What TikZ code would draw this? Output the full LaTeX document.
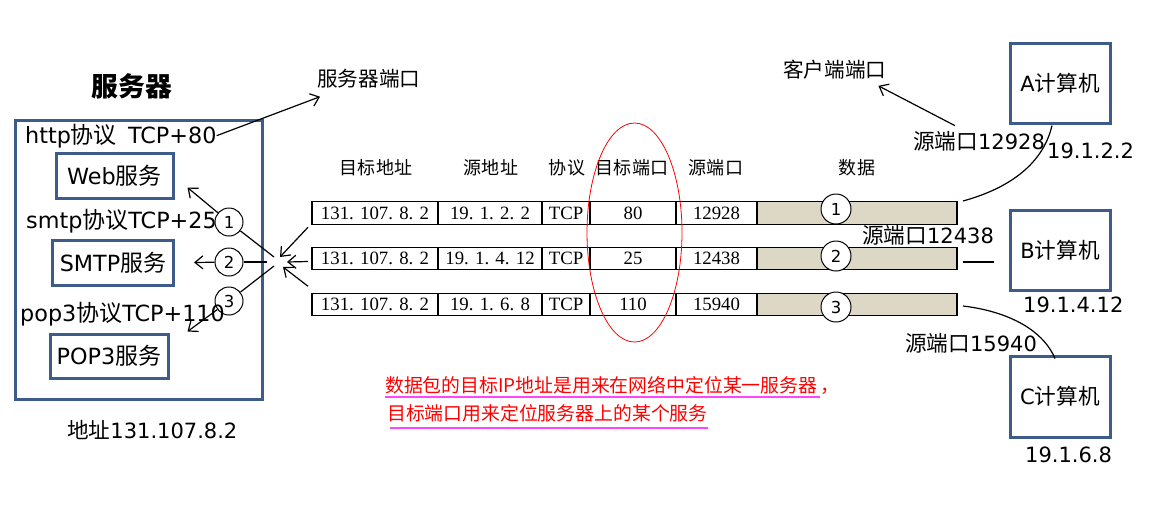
\documentclass[tikz,border=0pt]{standalone}
\usepackage{fontspec}
\setmainfont{DejaVu Sans}
\newfontfamily\zh[Scale=1.03]{Noto Sans CJK SC}
\newfontfamily\tabfont{Liberation Serif}
\usepackage{tikz}
\usetikzlibrary{arrows.meta,calc}

\definecolor{boxblue}{RGB}{62,92,138}
\definecolor{datafill}{RGB}{221,216,198}
\definecolor{ulmagenta}{RGB}{255,70,255}
\newcommand\lblsize{\fontsize{21}{25}\selectfont}
\newcommand\srvsize{\fontsize{22.3}{26}\selectfont}

\begin{document}
\begin{tikzpicture}[x=1pt,y=-1pt,
    lbl/.style={inner sep=0, font=\lblsize},
    srvlbl/.style={inner sep=0, font=\srvsize},
    bluebox/.style={draw=boxblue, line width=3, inner sep=0, font=\lblsize},
    cell/.style={draw, line width=1.2, minimum height=22.5, inner sep=0, outer sep=0, anchor=west, font=\fontsize{18.8}{22}\selectfont\tabfont},
    head/.style={inner sep=0, font=\fontsize{17.5}{20}\selectfont\zh},
    num/.style={draw, circle, line width=1, minimum size=28, inner sep=0, font=\fontsize{16.5}{20}\selectfont},
    conn/.style={line width=1.2},
    arr/.style={conn, -{Straight Barb[length=8pt,width=13pt]}},
    note/.style={inner sep=0, text=red, font=\fontsize{18.3}{22}\selectfont\zh},
    uline/.style={draw=ulmagenta, line width=2}]
        \useasboundingbox (0,0) rectangle (1155,504);

        % Сервер
        \node[font=\fontsize{26}{30}\selectfont\zh\bfseries] (title) at (132,86) {服务器};
        \node[bluebox, minimum width=247, minimum height=279] (server) at (138.5,259.5) {};
        \node[srvlbl, anchor=base west] (http) at (25,143) {http{\zh 协议}\hspace{0.5em}TCP+80};
        \node[srvlbl, anchor=base west] (smtp) at (26,228) {smtp{\zh 协议}TCP+25};
        \node[srvlbl, anchor=base west] (pop) at (20,321) {pop3{\zh 协议}TCP+110};
        \node[bluebox, font=\srvsize, minimum width=117, minimum height=45] (web) at (114.5,175.5) {Web{\zh 服务}};
        \node[bluebox, font=\srvsize, minimum width=121, minimum height=45] (smtpsrv) at (113,262.5) {SMTP{\zh 服务}};
        \node[bluebox, font=\srvsize, minimum width=118, minimum height=44] (popsrv) at (109,356) {POP3{\zh 服务}};
        \node[lbl, anchor=base west] (addr) at (67,438) {{\zh 地址}131.107.8.2};

        % Порт сервера
        \node[lbl, font=\fontsize{20}{24}\selectfont\zh, anchor=west] (svport) at (317,79) {服务器端口};
        \draw[arr] (http.east) -- ($(svport.south west)+(3,8)$);

        % Заголовки таблицы
        \foreach \x/\t [count=\j] in {376/目标地址, 491/源地址, 567/协议, 632/目标端口, 716/源端口, 857/数据} {
            \node[head] (h\j) at (\x,168) {\t};
        }

        % Строки пакетов
        \foreach \i/\y/\cy/\src/\dp/\sp in {1/213/209/19. 1. 2. 2/80/12928, 2/258.5/256/19. 1. 4. 12/25/12438, 3/304.5/307/19. 1. 6. 8/110/15940} {
            \node[cell, minimum width=126] (d\i) at (312,\y) {131. 107. 8. 2};
            \node[cell, minimum width=104] (s\i) at (d\i.east) {\src};
            \node[cell, minimum width=48] (p\i) at (s\i.east) {TCP};
            \node[cell, minimum width=86] (dp\i) at (p\i.east) {\dp};
            \node[cell, minimum width=81] (sp\i) at (dp\i.east) {\sp};
            \node[cell, minimum width=200, fill=datafill] (dat\i) at (sp\i.east) {};
            \node[num, fill=white, minimum size=30] (n\i) at (836,\cy) {\i};
        }

        % Овал вокруг порта назначения
        \draw[red, line width=0.8] (634.5,232.5) ellipse [x radius=47.5, y radius=109.5];

        % Разветвление к службам
        \coordinate (hub) at (281,262);
        \node[num] (k1) at (229,222) {1};
        \node[num] (k2) at (229,262) {2};
        \node[num] (k3) at (229,301) {3};
        \draw[arr] ($(d1.south west)+(-4,3)$) -- ($(hub)+(-1,-5)$);
        \draw[arr] ($(d2.west)+(-4,3)$) -- ($(hub)+(6,0)$);
        \draw[arr] ($(d3.north west)+(-4,-7)$) -- ($(hub)+(2,5)$);
        \draw[conn] ($(hub)+(-7,-5)$) -- (k1);
        \draw[arr] (k1) -- ($(web.south east)+(13,-12)$);
        \draw[conn] ($(hub)+(-14,0)$) -- (k2);
        \draw[arr] (k2) -- ($(smtpsrv.east)+(19,0)$);
        \draw[conn] ($(hub)+(-7,4)$) -- (k3);
        \draw[arr] (k3) -- ($(popsrv.north east)+(18,-1)$);

        % Клиенты
        \node[lbl, font=\fontsize{20}{24}\selectfont\zh, anchor=west] (clport) at (783,70) {客户端端口};
        \node[bluebox, minimum width=100, minimum height=80] (pcA) at (1060,83) {A{\zh 计算机}};
        \node[bluebox, minimum width=100, minimum height=80] (pcB) at (1060,250) {B{\zh 计算机}};
        \node[bluebox, minimum width=100, minimum height=81] (pcC) at (1060,396.5) {C{\zh 计算机}};
        \node[lbl, anchor=base west] (ipA) at (1047,158) {19.1.2.2};
        \node[lbl, anchor=base west] (ipB) at (1023,312) {19.1.4.12};
        \node[lbl, anchor=base west] (ipC) at (1025,462) {19.1.6.8};
        \node[lbl, anchor=base west] (spA) at (913,149) {{\zh 源端口}12928};
        \node[lbl, anchor=base west] (spB) at (862,243) {{\zh 源端口}12438};
        \node[lbl, anchor=base west] (spC) at (905,351) {{\zh 源端口}15940};
        \draw[arr] ($(spA.north west)+(42,-5)$) -- ($(clport.south east)+(-8,6)$);
        \draw[conn] ($(pcA.south)+(-8,1)$) .. controls (1042,168) and (1003,190) .. ($(dat1.east)+(6,-12)$);
        \draw[conn] ($(dat2.east)+(6,3.5)$) -- ($(pcB.west)+(-15,12)$);
        \draw[conn] ($(dat3.east)+(6,1.5)$) .. controls (1005,311) and (1042,328) .. ($(pcC.north)+(-5,4)$);

        % Пояснение
        \node[note, anchor=base west] (note1) at (385,392) {数据包的目标IP地址是用来在网络中定位某一服务器\,，};
        \node[note, anchor=base west] (note2) at (387,420) {目标端口用来定位服务器上的某个服务};
        \draw[uline] ($(note1.base west)+(0,5)$) -- ++(435,0);
        \draw[uline] ($(note2.base west)+(3,8)$) -- ++(318,0);
\end{tikzpicture}
\end{document}
